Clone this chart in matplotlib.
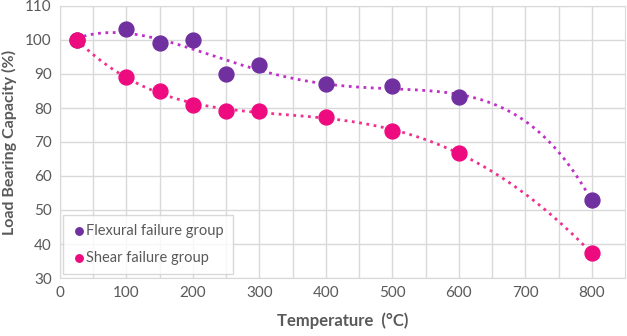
import matplotlib.pyplot as plt
import numpy as np

# data
temp_flex = [25, 100, 150, 200, 250, 300, 400, 500, 600, 800]
load_flex = [100, 103.3, 99, 100, 90, 92.5, 87.2, 86.5, 83.3, 52.8]
temp_shear = [25, 100, 150, 200, 250, 300, 400, 500, 600, 800]
load_shear = [100, 89, 85, 81, 79, 79, 77.5, 73.3, 66.7, 37.3]

purple = '#7030A0'
pink = '#EE0A7F'
purple_line = '#C030C8'
pink_line = '#F0308F'
grey = '#595959'

plt.rcParams['font.family'] = ['Lato', 'DejaVu Sans']

fig = plt.figure(figsize=(6.27, 3.36), dpi=100)
ax = fig.add_axes([60/627, 1-278/336, 565/627, 272/336])

# polynomial trend lines
xs = np.linspace(25, 800, 300)
pf = np.polyfit(temp_flex, load_flex, 4)
ps = np.polyfit(temp_shear, load_shear, 4)
ax.plot(xs, np.polyval(pf, xs), ':', color=purple_line, lw=2.0, zorder=2)
ax.plot(xs, np.polyval(ps, xs), ':', color=pink_line, lw=2.0, zorder=2)

ax.scatter(temp_flex, load_flex, s=115, color=purple, zorder=3, label='Flexural failure group')
ax.scatter(temp_shear, load_shear, s=115, color=pink, zorder=4, label='Shear failure group')

ax.set_xlim(0, 850)
ax.set_ylim(30, 110)
ax.set_xticks(range(0, 900, 100))
ax.set_xticks(range(50, 850, 100), minor=True)
ax.set_yticks(range(30, 120, 10))
ax.grid(True, which='both', color='#D9D9D9', lw=1)
ax.set_axisbelow(True)
for s in ax.spines.values():
    s.set_color('#D9D9D9')
ax.tick_params(which='both', length=0, labelsize=11, colors=grey, pad=6)

ax.set_xlabel('Temperature  (°C)', fontsize=12, fontweight='bold', color=grey, labelpad=9)
ax.set_ylabel('Load Bearing Capacity (%)', fontsize=11.5, fontweight='bold', color=grey, labelpad=6)

leg = ax.legend(loc='lower left', bbox_to_anchor=(0.005, 0.015), borderaxespad=0, fontsize=10.5,
                frameon=True, fancybox=False, edgecolor='#D0D0D0', handletextpad=0.0,
                borderpad=0.6, labelspacing=0.9, markerscale=0.5, handlelength=1.0,
                labelcolor=grey)
leg.get_frame().set_linewidth(1)

fig.savefig('out.png', dpi=100)
